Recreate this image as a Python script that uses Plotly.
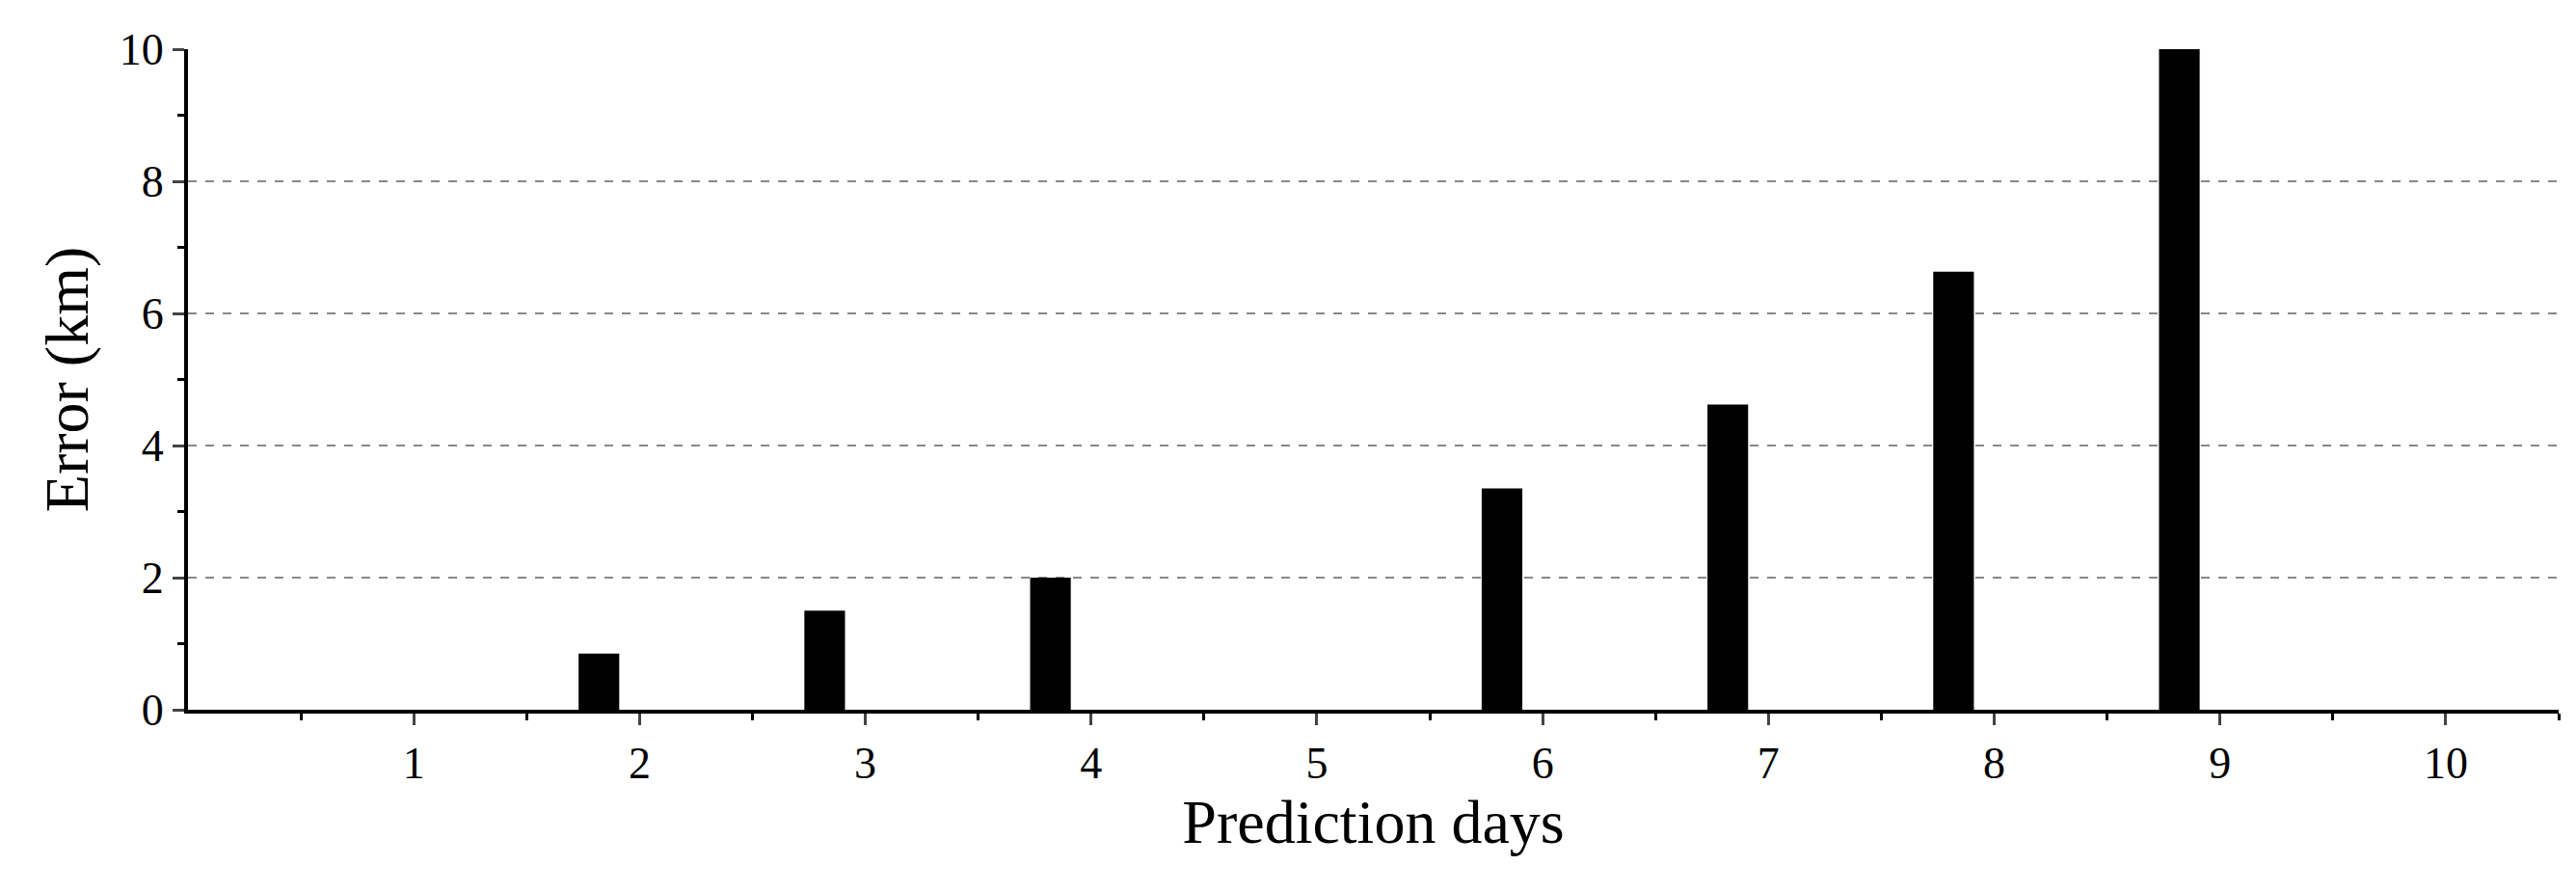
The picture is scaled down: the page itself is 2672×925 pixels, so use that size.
import plotly.graph_objects as go

days = [1, 2, 3, 4, 5, 6, 7, 8, 9, 10]
errors = [0, 0.85, 1.5, 2.0, 0, 3.35, 4.62, 6.63, 10.0, 0]

fig = go.Figure()
fig.add_trace(go.Bar(x=days, y=errors, width=0.18, offset=-0.27,
                     marker=dict(color="black", line=dict(width=0))))

font = "Liberation Serif, Palatino, serif"
fig.update_layout(
    width=2672, height=925, plot_bgcolor="white", paper_bgcolor="white",
    margin=dict(l=187, r=26, t=43, b=197), showlegend=False,
    font=dict(family=font, color="black"),
)
fig.update_xaxes(range=[0, 10.5], tickvals=days, ticks="outside", ticklen=12, tickwidth=3,
                 showline=True, linewidth=4, linecolor="black", showgrid=False,
                 tickfont=dict(size=46), title=dict(text="Prediction days", font=dict(size=64), standoff=8),
                 minor=dict(tickvals=[0.5 + i for i in range(11)], ticks="outside", ticklen=7, tickwidth=3, tickcolor="black"),
                 zeroline=False)
fig.update_yaxes(range=[0, 10], dtick=2, ticks="outside", ticklen=12, tickwidth=3,
                 showline=True, linewidth=4, linecolor="black",
                 showgrid=True, gridcolor="#888", griddash="dash", gridwidth=2,
                 tickfont=dict(size=46), title=dict(text="Error (km)", font=dict(size=64), standoff=12),
                 minor=dict(dtick=1, ticks="outside", ticklen=7, tickwidth=3, tickcolor="black", showgrid=False),
                 zeroline=False)
fig.write_html("out.html")
